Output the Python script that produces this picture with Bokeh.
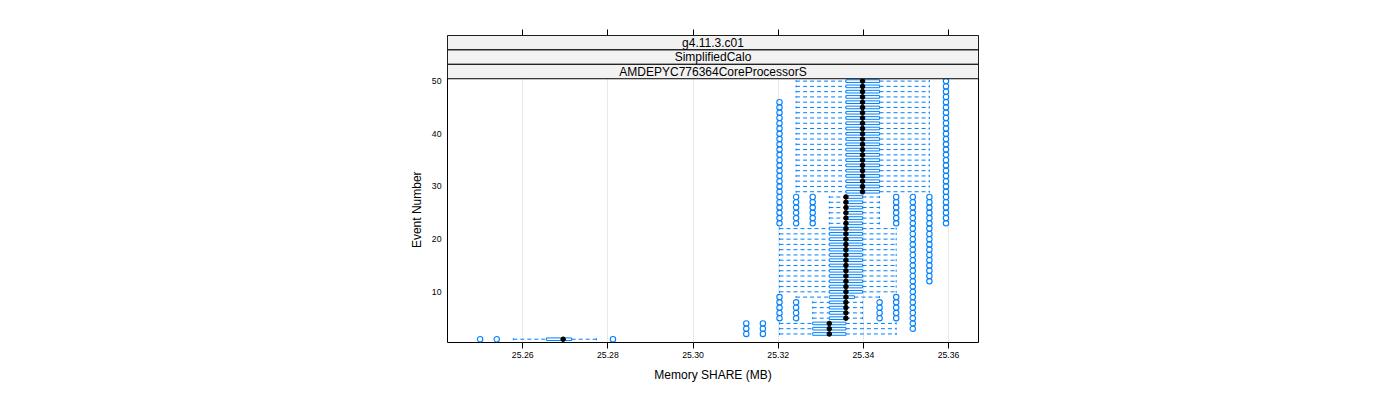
from bokeh.plotting import figure
from bokeh.models import ColumnDataSource, FixedTicker, LinearAxis, Range1d, Title
from bokeh.core.properties import value
from bokeh.embed import file_html
from bokeh.resources import INLINE

# ---------------- data ----------------
strip_labels = ["g4.11.3.c01", "SimplifiedCalo", "AMDEPYC776364CoreProcessorS"]
x_ticks = [25.26, 25.28, 25.30, 25.32, 25.34, 25.36]
x_tick_labels = ["25.26", "25.28", "25.30", "25.32", "25.34", "25.36"]
y_ticks = [10, 20, 30, 40, 50]
y_tick_labels = ["10", "20", "30", "40", "50"]
x_label = "Memory SHARE (MB)"
y_label = "Event Number"

events = list(range(1, 51))

lower_whisker = [
    25.2578, 25.3203, 25.3203, 25.3203, 25.3281, 25.3281, 25.3281, 25.3281, 25.3242, 25.3203,
    25.3203, 25.3203, 25.3203, 25.3203, 25.3203, 25.3203, 25.3203, 25.3203, 25.3203, 25.3203,
    25.3203, 25.3203, 25.3320, 25.3320, 25.3320, 25.3320, 25.3320, 25.3320, 25.3242, 25.3242,
    25.3242, 25.3242, 25.3242, 25.3242, 25.3242, 25.3242, 25.3242, 25.3242, 25.3242, 25.3242,
    25.3242, 25.3242, 25.3242, 25.3242, 25.3242, 25.3242, 25.3242, 25.3242, 25.3242, 25.3242,
]
q1 = [
    25.2656, 25.3281, 25.3281, 25.3281, 25.3320, 25.3320, 25.3320, 25.3320, 25.3320, 25.3320,
    25.3320, 25.3320, 25.3320, 25.3320, 25.3320, 25.3320, 25.3320, 25.3320, 25.3320, 25.3320,
    25.3320, 25.3320, 25.3359, 25.3359, 25.3359, 25.3359, 25.3359, 25.3359, 25.3359, 25.3359,
    25.3359, 25.3359, 25.3359, 25.3359, 25.3359, 25.3359, 25.3359, 25.3359, 25.3359, 25.3359,
    25.3359, 25.3359, 25.3359, 25.3359, 25.3359, 25.3359, 25.3359, 25.3359, 25.3359, 25.3359,
]
median = [
    25.2695, 25.3320, 25.3320, 25.3320, 25.3359, 25.3359, 25.3359, 25.3359, 25.3359, 25.3359,
    25.3359, 25.3359, 25.3359, 25.3359, 25.3359, 25.3359, 25.3359, 25.3359, 25.3359, 25.3359,
    25.3359, 25.3359, 25.3359, 25.3359, 25.3359, 25.3359, 25.3359, 25.3359, 25.3398, 25.3398,
    25.3398, 25.3398, 25.3398, 25.3398, 25.3398, 25.3398, 25.3398, 25.3398, 25.3398, 25.3398,
    25.3398, 25.3398, 25.3398, 25.3398, 25.3398, 25.3398, 25.3398, 25.3398, 25.3398, 25.3398,
]
q3 = [
    25.2715, 25.3359, 25.3359, 25.3359, 25.3359, 25.3359, 25.3359, 25.3359, 25.3379, 25.3398,
    25.3398, 25.3398, 25.3398, 25.3398, 25.3398, 25.3398, 25.3398, 25.3398, 25.3398, 25.3398,
    25.3398, 25.3398, 25.3398, 25.3398, 25.3398, 25.3398, 25.3398, 25.3398, 25.3438, 25.3438,
    25.3438, 25.3438, 25.3438, 25.3438, 25.3438, 25.3438, 25.3438, 25.3438, 25.3438, 25.3438,
    25.3438, 25.3438, 25.3438, 25.3438, 25.3438, 25.3438, 25.3438, 25.3438, 25.3438, 25.3438,
]
upper_whisker = [
    25.2773, 25.3477, 25.3477, 25.3477, 25.3398, 25.3398, 25.3398, 25.3398, 25.3438, 25.3477,
    25.3477, 25.3477, 25.3477, 25.3477, 25.3477, 25.3477, 25.3477, 25.3477, 25.3477, 25.3477,
    25.3477, 25.3477, 25.3438, 25.3438, 25.3438, 25.3438, 25.3438, 25.3438, 25.3555, 25.3555,
    25.3555, 25.3555, 25.3555, 25.3555, 25.3555, 25.3555, 25.3555, 25.3555, 25.3555, 25.3555,
    25.3555, 25.3555, 25.3555, 25.3555, 25.3555, 25.3555, 25.3555, 25.3555, 25.3555, 25.3555,
]
outliers = [
    [25.2500, 25.2539, 25.2812],                                  # 1
    [25.3125, 25.3164],                                           # 2
    [25.3125, 25.3164, 25.3516],                                  # 3
    [25.3125, 25.3164, 25.3516],                                  # 4
    [25.3203, 25.3242, 25.3438, 25.3477, 25.3516],                # 5
    [25.3203, 25.3242, 25.3438, 25.3477, 25.3516],                # 6
    [25.3203, 25.3242, 25.3438, 25.3477, 25.3516],                # 7
    [25.3203, 25.3242, 25.3438, 25.3477, 25.3516],                # 8
    [25.3203, 25.3477, 25.3516],                                  # 9
    [25.3516],                                                    # 10
    [25.3516],                                                    # 11
    [25.3516, 25.3555],                                           # 12
    [25.3516, 25.3555],                                           # 13
    [25.3516, 25.3555],                                           # 14
    [25.3516, 25.3555],                                           # 15
    [25.3516, 25.3555],                                           # 16
    [25.3516, 25.3555],                                           # 17
    [25.3516, 25.3555],                                           # 18
    [25.3516, 25.3555],                                           # 19
    [25.3516, 25.3555],                                           # 20
    [25.3516, 25.3555],                                           # 21
    [25.3516, 25.3555],                                           # 22
    [25.3203, 25.3242, 25.3281, 25.3477, 25.3516, 25.3555, 25.3594],  # 23
    [25.3203, 25.3242, 25.3281, 25.3477, 25.3516, 25.3555, 25.3594],  # 24
    [25.3203, 25.3242, 25.3281, 25.3477, 25.3516, 25.3555, 25.3594],  # 25
    [25.3203, 25.3242, 25.3281, 25.3477, 25.3516, 25.3555, 25.3594],  # 26
    [25.3203, 25.3242, 25.3281, 25.3477, 25.3516, 25.3555, 25.3594],  # 27
    [25.3203, 25.3242, 25.3281, 25.3477, 25.3516, 25.3555, 25.3594],  # 28
    [25.3203, 25.3594],                                           # 29
    [25.3203, 25.3594],                                           # 30
    [25.3203, 25.3594],                                           # 31
    [25.3203, 25.3594],                                           # 32
    [25.3203, 25.3594],                                           # 33
    [25.3203, 25.3594],                                           # 34
    [25.3203, 25.3594],                                           # 35
    [25.3203, 25.3594],                                           # 36
    [25.3203, 25.3594],                                           # 37
    [25.3203, 25.3594],                                           # 38
    [25.3203, 25.3594],                                           # 39
    [25.3203, 25.3594],                                           # 40
    [25.3203, 25.3594],                                           # 41
    [25.3203, 25.3594],                                           # 42
    [25.3203, 25.3594],                                           # 43
    [25.3203, 25.3594],                                           # 44
    [25.3203, 25.3594],                                           # 45
    [25.3203, 25.3594],                                           # 46
    [25.3594],                                                    # 47
    [25.3594],                                                    # 48
    [25.3594],                                                    # 49
    [25.3594],                                                    # 50
]

# ---------------- styling / layout ----------------
FONT = "Liberation Sans"
BLUE = "#0080ff"
X_LO, X_HI = 25.24234, 25.36703
Y_LO, PANEL_TOP = 0.38, 50.45
STRIP_H = 2.736
Y_HI = PANEL_TOP + STRIP_H * len(strip_labels)
BOX_HALF = 0.25
CAP_HALF = 0.2

W, H = 1384, 384
B_LEFT, B_RIGHT, B_TOP, B_BOTTOM = 447, 406, 35, 40

p = figure(width=W, height=H, output_backend="svg", toolbar_location=None,
           x_range=Range1d(X_LO, X_HI), y_range=Range1d(Y_LO, Y_HI),
           min_border_left=B_LEFT, min_border_right=B_RIGHT,
           min_border_top=B_TOP, min_border_bottom=B_BOTTOM)
p.background_fill_color = "white"
p.border_fill_color = "white"
p.outline_line_color = "black"
p.outline_line_width = 1

# grid
p.xgrid.ticker = FixedTicker(ticks=x_ticks)
p.xgrid.grid_line_color = "#e8e8e8"
p.ygrid.visible = False

# bottom axis
xa = p.xaxis[0]
xa.ticker = FixedTicker(ticks=x_ticks)
xa.major_label_overrides = {t: l for t, l in zip(x_ticks, x_tick_labels)}
xa.axis_line_color = None
xa.major_tick_out = 6
xa.major_tick_in = 0
xa.minor_tick_line_color = None
xa.major_tick_line_color = "black"
xa.major_label_standoff = 3
xa.major_label_text_font = FONT
xa.major_label_text_font_size = "8.7px"
xa.major_label_text_color = "black"
xa.axis_label = x_label
xa.axis_label_text_font = FONT
xa.axis_label_text_font_size = "12px"
xa.axis_label_text_font_style = "normal"
xa.axis_label_text_color = "black"
xa.axis_label_standoff = 7

# top axis (ticks only)
ta = LinearAxis(ticker=FixedTicker(ticks=x_ticks))
ta.major_label_overrides = {t: "" for t in x_ticks}
ta.major_label_text_font_size = "1px"
ta.axis_line_color = None
ta.major_tick_out = 6
ta.major_tick_in = 0
ta.minor_tick_line_color = None
ta.major_tick_line_color = "black"
p.add_layout(ta, "above")

# left axis
ya = p.yaxis[0]
ya.ticker = FixedTicker(ticks=y_ticks)
ya.major_label_overrides = {t: l for t, l in zip(y_ticks, y_tick_labels)}
ya.axis_line_color = None
ya.major_tick_out = 0
ya.major_tick_in = 0
ya.major_tick_line_color = None
ya.minor_tick_line_color = None
ya.major_label_standoff = 6
ya.major_label_text_font = FONT
ya.major_label_text_font_size = "8.7px"
ya.major_label_text_color = "black"
ya.major_label_orientation = "horizontal"

# y label as a left title, centred on the panel part (below the strips)
frame_h_px = H - B_TOP - B_BOTTOM
px_per_unit = frame_h_px / (Y_HI - Y_LO)
label_len_px = 76.7
panel_mid_from_bottom = (PANEL_TOP - Y_LO) / 2 * px_per_unit
p.add_layout(Title(text=y_label, align="left", offset=panel_mid_from_bottom - label_len_px / 2,
                   text_font=FONT, text_font_size="12px", text_font_style="normal",
                   text_color="black", standoff=9), "left")

# ---------------- boxes ----------------
src = ColumnDataSource(dict(
    ev=events, lw=lower_whisker, q1=q1, med=median, q3=q3, uw=upper_whisker,
    bot=[e - BOX_HALF for e in events], top=[e + BOX_HALF for e in events],
    cb=[e - CAP_HALF for e in events], ct=[e + CAP_HALF for e in events],
))

p.segment(x0="lw", y0="ev", x1="q1", y1="ev", source=src, line_color=BLUE, line_width=1, line_dash="4 3")
p.segment(x0="q3", y0="ev", x1="uw", y1="ev", source=src, line_color=BLUE, line_width=1, line_dash="4 3")
p.segment(x0="lw", y0="cb", x1="lw", y1="ct", source=src, line_color=BLUE, line_width=1)
p.segment(x0="uw", y0="cb", x1="uw", y1="ct", source=src, line_color=BLUE, line_width=1)
p.quad(left="q1", right="q3", bottom="bot", top="top", source=src,
       fill_color=None, line_color=BLUE, line_width=1)

ox, oy = [], []
for e, vals in zip(events, outliers):
    for v in vals:
        ox.append(v)
        oy.append(e)
p.scatter(x=ox, y=oy, marker="circle", size=5.4, fill_color=None, line_color=BLUE, line_width=1.1)

p.scatter(x="med", y="ev", source=src, marker="circle", size=4.6, fill_color="black", line_color="black")

# ---------------- strips ----------------
n = len(strip_labels)
s_bot = [PANEL_TOP + STRIP_H * (n - 1 - i) for i in range(n)]
s_top = [b + STRIP_H for b in s_bot]
p.quad(left=X_LO, right=X_HI, bottom=s_bot, top=s_top,
       fill_color="#f2f2f2", line_color="black", line_width=1)
p.text(x=[(X_LO + X_HI) / 2] * n, y=[b + STRIP_H / 2 for b in s_bot], text=strip_labels,
       text_align="center", text_baseline="middle", text_font=value(FONT),
       text_font_size="12px", text_color="black")

open("out.html", "w").write(file_html(p, INLINE))
